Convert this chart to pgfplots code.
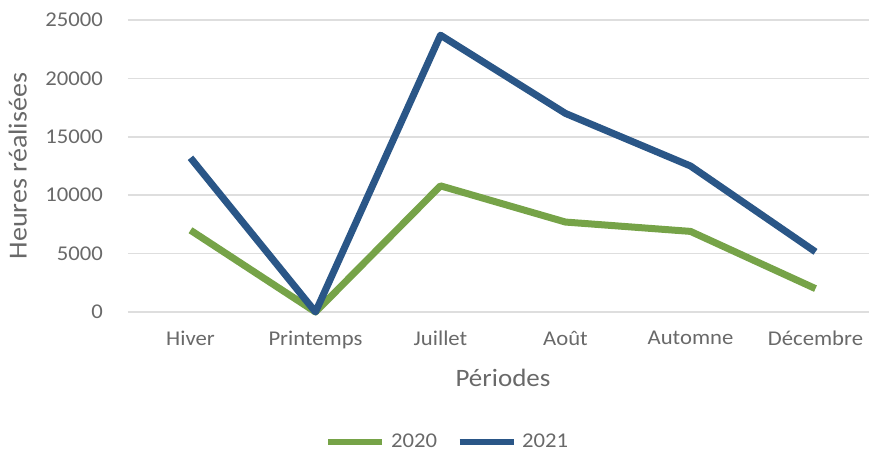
\documentclass[border=0pt]{standalone}
\usepackage{pgfplots}
\pgfplotsset{compat=1.18}
\usepackage{fontspec}
\setmainfont{Carlito}[FakeStretch=1.08]
\definecolor{vert}{RGB}{118,163,72}
\definecolor{bleu}{RGB}{42,86,135}
\definecolor{texte}{RGB}{105,105,105}
\definecolor{grille}{RGB}{222,222,222}
\begin{document}
\begin{tikzpicture}
\path[use as bounding box] (0,0) rectangle (434.5pt,227pt);
\begin{axis}[
    at={(64pt,71pt)}, anchor=south west,
    scale only axis, width=375pt, height=146pt,
    xmin=-0.5, xmax=5.5, ymin=0, ymax=25000,
    xtick={0,1,2,3,4,5},
    xticklabels={Hiver,Printemps,Juillet,Août,Automne,Décembre},
    ytick={0,5000,10000,15000,20000,25000},
    scaled y ticks=false,
    /pgf/number format/1000 sep={},
    /pgf/number format/assume math mode=true,
    axis line style={draw=none},
    major tick length=0pt,
    ymajorgrids, grid style={grille, line width=0.8pt},
    font=\fontsize{10.5}{12}\selectfont,
    tick label style={texte},
    xticklabel style={yshift=-6pt},
    yticklabel style={xshift=-9pt},
    xlabel={Périodes}, ylabel={Heures réalisées},
    label style={texte, font=\fontsize{12.5}{14}\selectfont},
    xlabel style={yshift=-3.5pt},
    ylabel style={yshift=2.5pt, font=\fontsize{13}{15}\selectfont},
    clip=false,
    legend style={at={(0.428,-0.445)}, anchor=center, draw=none, fill=none,
        legend columns=2, font=\fontsize{10.5}{12}\selectfont, text=texte,
        /tikz/every even column/.append style={column sep=8pt},
        /tikz/every odd column/.append style={column sep=1pt}},
    legend image code/.code={\draw[#1, line width=2.6pt] (0pt,0pt) -- (27pt,0pt);},
]
\addplot[vert, line width=3.5pt, line join=round] coordinates {
    (0,7000) (1,0) (2,10800) (3,7700) (4,6900) (5,2000)
};
\addlegendentry{2020}
\addplot[bleu, line width=3.5pt, line join=round] coordinates {
    (0,13200) (1,0) (2,23700) (3,17000) (4,12500) (5,5150)
};
\addlegendentry{2021}
\end{axis}
\end{tikzpicture}
\end{document}
